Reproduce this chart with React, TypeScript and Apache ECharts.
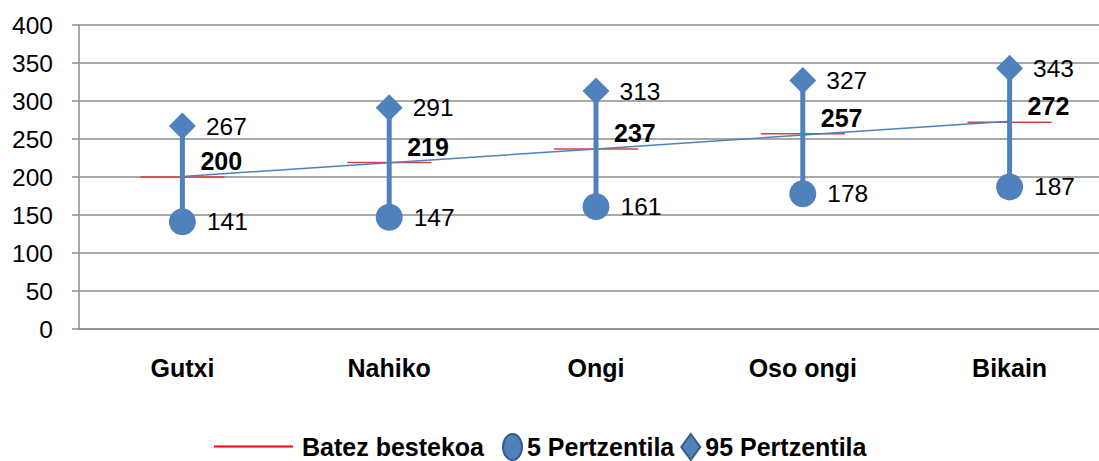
import React, { useEffect, useRef } from "react";
import * as echarts from "echarts";

const categories = ["Gutxi", "Nahiko", "Ongi", "Oso ongi", "Bikain"];
const meanValues = [200, 219, 237, 257, 272];
const p5Values = [141, 147, 161, 178, 187];
const p95Values = [267, 291, 313, 327, 343];
const yMin = 0;
const yMax = 400;
const yInterval = 50;

const seriesNames = ["Batez bestekoa", "5 Pertzentila", "95 Pertzentila"];

// linear trendline (least squares) of the mean values, as Excel draws it
function trend(values: number[]): number[] {
  const n = values.length;
  const xs = values.map((_, i) => i + 1);
  const mx = xs.reduce((a, b) => a + b, 0) / n;
  const my = values.reduce((a, b) => a + b, 0) / n;
  let num = 0;
  let den = 0;
  for (let i = 0; i < n; i++) {
    num += (xs[i] - mx) * (values[i] - my);
    den += (xs[i] - mx) * (xs[i] - mx);
  }
  const slope = num / den;
  const icpt = my - slope * mx;
  return xs.map((x) => +(icpt + slope * x).toFixed(2));
}

const FONT = "'Liberation Sans', Arial, sans-serif";
const BLUE = "#4F81BD";
const GRID = "#8C8C8C";
const OVAL = "path://M0,12a12,12 0 1,0 24,0a12,12 0 1,0 -24,0z";

export default function App() {
  const ref = useRef<HTMLDivElement>(null);
  useEffect(() => {
    if (!ref.current) return;
    const chart = echarts.init(ref.current, undefined, { renderer: "svg" });
    const rangeData = categories.map((_, i) => [i, p5Values[i], p95Values[i]]);
    chart.setOption({
      animation: false,
      backgroundColor: "#ffffff",
      grid: { left: 79, right: 0, top: 25, bottom: 132, containLabel: false },
      xAxis: {
        type: "category",
        data: categories,
        boundaryGap: true,
        axisLine: { show: true, lineStyle: { color: GRID, width: 1.5 } },
        axisTick: { show: false },
        axisLabel: {
          margin: 26,
          color: "#000",
          fontFamily: FONT,
          fontWeight: "bold",
          fontSize: 25,
        },
        splitLine: { show: false },
      },
      yAxis: {
        type: "value",
        min: yMin,
        max: yMax,
        interval: yInterval,
        axisLine: { show: true, lineStyle: { color: GRID, width: 1.5 } },
        axisTick: { show: true, length: 7, lineStyle: { color: GRID, width: 1.5 } },
        axisLabel: {
          margin: 26,
          color: "#000",
          fontFamily: FONT,
          fontSize: 24.5,
        },
        splitLine: { show: true, lineStyle: { color: GRID, width: 1.5 } },
      },
      legend: [
        {
          data: [
            { name: seriesNames[0], icon: "rect", itemStyle: { color: "#FF0000", opacity: 1 } },
          ],
          left: 209,
          top: 429,
          itemWidth: 79,
          itemHeight: 2,
          textStyle: {
            fontFamily: FONT,
            fontWeight: "bold",
            fontSize: 25,
            color: "#000",
            padding: [0, 0, 0, 4],
          },
        },
        {
          data: [
            {
              name: seriesNames[1],
              icon: OVAL,
              itemStyle: { color: BLUE, borderColor: "#385D8A", borderWidth: 2, opacity: 1 },
            },
            {
              name: seriesNames[2],
              icon: "diamond",
              itemStyle: { color: BLUE, borderColor: "#385D8A", borderWidth: 2, opacity: 1 },
            },
          ],
          left: 497,
          top: 428,
          itemWidth: 19,
          itemHeight: 26,
          itemGap: 6,
          symbolKeepAspect: false,
          textStyle: {
            fontFamily: FONT,
            fontWeight: "bold",
            fontSize: 25,
            color: "#000",
          },
        },
      ],
      series: [
        {
          name: seriesNames[0],
          type: "scatter",
          data: meanValues,
          symbol: "rect",
          symbolSize: [84, 1.5],
          itemStyle: { color: "#D9433C", opacity: 1 },
          z: 1,
          label: {
            show: true,
            position: "inside",
            align: "left",
            verticalAlign: "middle",
            offset: [18, -16],
            color: "#000",
            fontFamily: FONT,
            fontWeight: "bold",
            fontSize: 25,
          },
        },
        {
          name: "trend",
          type: "line",
          data: trend(meanValues),
          symbol: "none",
          lineStyle: { color: BLUE, width: 1.5 },
          z: 2,
          silent: true,
        },
        {
          name: "range",
          type: "custom",
          data: rangeData,
          z: 3,
          renderItem: (params: any, api: any) => {
            const a = api.coord([api.value(0), api.value(1)]);
            const b = api.coord([api.value(0), api.value(2)]);
            return {
              type: "line",
              shape: { x1: a[0], y1: a[1], x2: b[0], y2: b[1] },
              style: { stroke: BLUE, lineWidth: 5 },
            };
          },
        },
        {
          name: seriesNames[1],
          type: "scatter",
          data: p5Values,
          symbol: "circle",
          symbolSize: 27,
          itemStyle: { color: BLUE, opacity: 1 },
          z: 4,
          label: {
            show: true,
            position: "right",
            distance: 11,
            color: "#000",
            fontFamily: FONT,
            fontSize: 24.5,
          },
        },
        {
          name: seriesNames[2],
          type: "scatter",
          data: p95Values,
          symbol: "diamond",
          symbolSize: 27,
          itemStyle: { color: BLUE, opacity: 1 },
          z: 4,
          label: {
            show: true,
            position: "right",
            distance: 10,
            color: "#000",
            fontFamily: FONT,
            fontSize: 24.5,
          },
        },
      ],
    });
    return () => chart.dispose();
  }, []);
  return (
    <div
      ref={ref}
      style={{ position: "fixed", left: 0, top: 0, width: 1113, height: 461 }}
    />
  );
}
